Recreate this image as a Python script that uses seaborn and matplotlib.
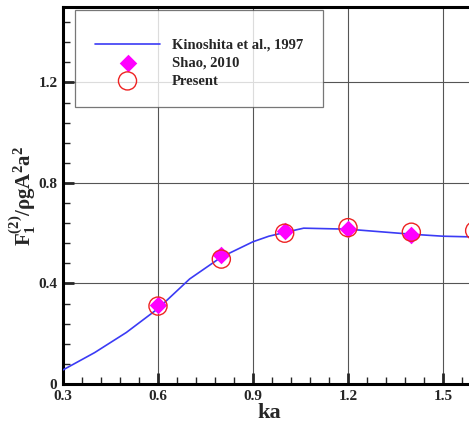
import numpy as np
import pandas as pd
import matplotlib
matplotlib.use("Agg")
import matplotlib.pyplot as plt
import seaborn as sns
from matplotlib.ticker import MultipleLocator

# Data
kin_ka = [0.30, 0.40, 0.50, 0.60, 0.70, 0.80, 0.90, 0.95, 1.00, 1.06, 1.20, 1.30, 1.40, 1.50, 1.60]
kin_f = [0.056, 0.125, 0.205, 0.300, 0.418, 0.505, 0.566, 0.588, 0.603, 0.620, 0.616, 0.606, 0.596, 0.588, 0.585]
shao_ka = [0.6, 0.8, 1.0, 1.2, 1.4]
shao_f = [0.315, 0.513, 0.610, 0.617, 0.593]
pres_ka = [0.6, 0.8, 1.0, 1.2, 1.4, 1.6]
pres_f = [0.310, 0.497, 0.600, 0.622, 0.604, 0.610]

sns.set_style("white")
plt.rcParams['font.family'] = ['Liberation Serif', 'DejaVu Serif']
plt.rcParams['font.weight'] = 'bold'
plt.rcParams['mathtext.fontset'] = 'custom'
plt.rcParams['mathtext.rm'] = 'Liberation Serif:bold'
plt.rcParams['mathtext.it'] = 'Liberation Serif:bold'
plt.rcParams['mathtext.bf'] = 'Liberation Serif:bold'

fig = plt.figure(figsize=(4.69, 4.23), dpi=100)
axw = 95 * (1.3 / 0.3)
ax = fig.add_axes([63/469, 39/423, axw/469, 377/423])

kin = pd.DataFrame({"ka": kin_ka, "F": kin_f})
shao = pd.DataFrame({"ka": shao_ka, "F": shao_f})
pres = pd.DataFrame({"ka": pres_ka, "F": pres_f})

sns.lineplot(data=kin, x="ka", y="F", ax=ax, color="#3b3bf5", lw=1.2,
             label="Kinoshita et al., 1997", zorder=3)
sns.scatterplot(data=shao, x="ka", y="F", ax=ax, marker="D", color="#ff00ff",
                s=80, edgecolor="#ff00ff", linewidth=0, label="Shao, 2010", zorder=4)
sns.scatterplot(data=pres, x="ka", y="F", ax=ax, marker="o", facecolor="none",
                edgecolor="#ee2222", s=170, linewidth=1.0, label="Present", zorder=5,
                clip_on=False)

ax.set_xlim(0.3, 1.6)
ax.set_ylim(0, 1.5)
ax.xaxis.set_minor_locator(MultipleLocator(0.06))
ax.yaxis.set_minor_locator(MultipleLocator(0.08))
ax.set_xticks([0.3, 0.6, 0.9, 1.2, 1.5])
ax.set_xticklabels(["0.3", "0.6", "0.9", "1.2", "1.5"])
ax.set_yticks([0, 0.4, 0.8, 1.2])
ax.set_yticklabels(["0", "0.4", "0.8", "1.2"])

ax.grid(True, which="major", color="#555555", lw=0.8)
ax.set_axisbelow(True)
ax.tick_params(which="major", direction="in", length=8, width=2, labelsize=11,
               bottom=True, left=True, pad=4)
ax.tick_params(which="minor", direction="in", length=5, width=1, bottom=True, left=True)
for lab in ax.get_xticklabels() + ax.get_yticklabels():
    lab.set_fontweight("bold")

for s in ["left", "top", "bottom"]:
    ax.spines[s].set_linewidth(2.2)
    ax.spines[s].set_color("black")
ax.spines["right"].set_visible(False)

ax.set_xlabel("ka", fontsize=16, fontweight="bold", labelpad=0)
ax.set_ylabel(r"$\mathrm{F}_1^{(2)}/\rho\mathrm{gA}^2\mathrm{a}^2$", fontsize=15, labelpad=0)

leg = ax.legend(loc="upper left", bbox_to_anchor=(12/axw, 1 - 3/377), borderaxespad=0,
                frameon=True, fancybox=False, borderpad=1.35, handlelength=4.5,
                handletextpad=0.8, labelspacing=0.33, title=" ", title_fontsize=2,
                prop={"family": "Liberation Serif", "weight": "bold", "size": 10.5})
leg.get_frame().set_edgecolor("#555555")
leg.get_frame().set_linewidth(0.9)

fig.savefig("out.png", dpi=100)
